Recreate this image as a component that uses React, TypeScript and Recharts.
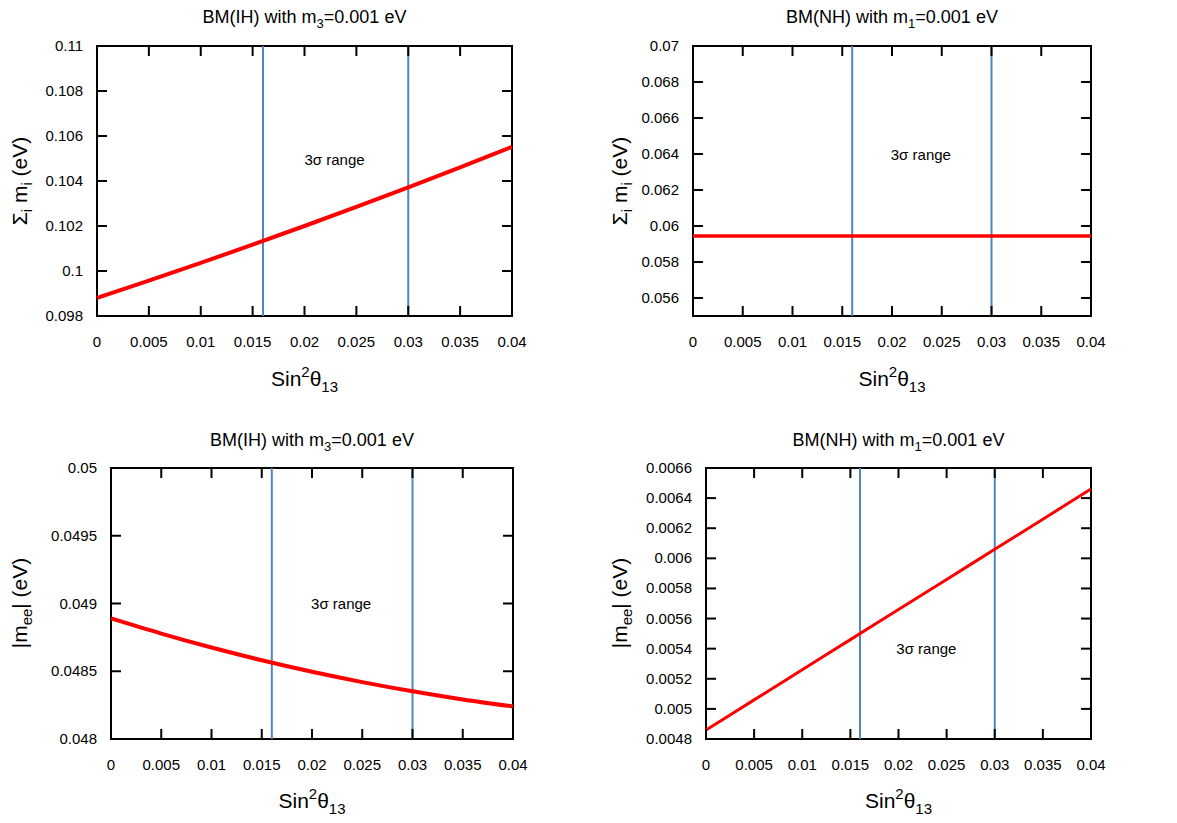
import { LineChart, Line, XAxis, YAxis, ReferenceLine, ReferenceArea, ReferenceDot } from 'recharts';

const FONT = '"Liberation Sans", Arial, Helvetica, sans-serif';

// sin^2(theta13) sample points
const xs = [0, 0.005, 0.01, 0.015, 0.02, 0.025, 0.03, 0.035, 0.04];
const xTicks = [0, 0.005, 0.01, 0.015, 0.02, 0.025, 0.03, 0.035, 0.04];

// sum of masses, BM(IH) m3 = 0.001 eV
const sumIH = [0.0988, 0.09957, 0.10036, 0.10117, 0.102, 0.10285, 0.10372, 0.10461, 0.10552];
const sumIHTicks = [0.098, 0.1, 0.102, 0.104, 0.106, 0.108, 0.11];

// sum of masses, BM(NH) m1 = 0.001 eV
const sumNH = [0.05945, 0.05945, 0.05945, 0.05945, 0.05945, 0.05945, 0.05945, 0.05945, 0.05945];
const sumNHTicks = [0.056, 0.058, 0.06, 0.062, 0.064, 0.066, 0.068, 0.07];

// |m_ee|, BM(IH)
const meeIH = [0.04889, 0.048778, 0.048675, 0.048581, 0.048496, 0.04842, 0.048352, 0.048292, 0.04824];
const meeIHTicks = [0.048, 0.0485, 0.049, 0.0495, 0.05];

// |m_ee|, BM(NH)
const meeNH = [0.00486, 0.00506, 0.00526, 0.00546, 0.00566, 0.00586, 0.00606, 0.00626, 0.00646];
const meeNHTicks = [0.0048, 0.005, 0.0052, 0.0054, 0.0056, 0.0058, 0.006, 0.0062, 0.0064, 0.0066];

// 3 sigma band edges
const sigmaLow = 0.016;
const sigmaHigh = 0.03;

const X_AXIS_H = 40;
const Y_AXIS_W = 60;

interface PanelProps {
  values: number[];
  yDomain: [number, number];
  yTicks: number[];
  labelY: number;
  left: number;
  top: number;
  width: number;
  height: number;
  box: { top: number; right: number; bottom: number; left: number };
  lineWidth: number;
}

function Panel({ values, yDomain, yTicks, labelY, left, top, width, height, box, lineWidth }: PanelProps) {
  const data = xs.map((x, i) => ({ x, y: values[i] }));
  const plotW = width - box.left - box.right;
  const plotH = height - box.top - box.bottom;
  const margin = { top: box.top, right: box.right, bottom: box.bottom - X_AXIS_H, left: box.left - Y_AXIS_W };

  const xTick = (p: any) => (
    <g>
      <line x1={p.x} y1={p.y} x2={p.x} y2={p.y - 10} stroke="#000" strokeWidth={2} />
      <line x1={p.x} y1={p.y - plotH} x2={p.x} y2={p.y - plotH + 10} stroke="#000" strokeWidth={2} />
      <text x={p.x} y={p.y + 31} textAnchor="middle" fontSize={15} fontFamily={FONT} fill="#000">
        {String(p.payload.value)}
      </text>
    </g>
  );

  const yTick = (p: any) => (
    <g>
      <line x1={p.x} y1={p.y} x2={p.x + 10} y2={p.y} stroke="#000" strokeWidth={2} />
      <line x1={p.x + plotW} y1={p.y} x2={p.x + plotW - 10} y2={p.y} stroke="#000" strokeWidth={2} />
      <text x={p.x - 14} y={p.y + 5} textAnchor="end" fontSize={15} fontFamily={FONT} fill="#000">
        {String(p.payload.value)}
      </text>
    </g>
  );

  return (
    <div style={{ position: 'absolute', left, top }}>
      <LineChart width={width} height={height} data={data} margin={margin}>
        <XAxis
          dataKey="x"
          type="number"
          domain={[0, 0.04]}
          ticks={xTicks}
          interval={0}
          height={X_AXIS_H}
          tickSize={0}
          tickMargin={0}
          axisLine={false}
          tickLine={false}
          tick={xTick}
        />
        <YAxis
          type="number"
          domain={yDomain}
          ticks={yTicks}
          interval={0}
          width={Y_AXIS_W}
          tickSize={0}
          tickMargin={0}
          axisLine={false}
          tickLine={false}
          tick={yTick}
        />
        <ReferenceLine x={sigmaLow} stroke="#4f86c0" strokeWidth={2} />
        <ReferenceLine x={sigmaHigh} stroke="#4f86c0" strokeWidth={2} />
        <ReferenceDot
          x={0.0229}
          y={labelY}
          r={0}
          fill="none"
          stroke="none"
          label={{ value: '3σ range', position: 'center', fontSize: 15, fill: '#000', fontFamily: FONT }}
        />
        <Line
          type="monotone"
          dataKey="y"
          stroke="#ff0000"
          strokeWidth={lineWidth}
          dot={false}
          isAnimationActive={false}
        />
        <ReferenceArea
          x1={0}
          x2={0.04}
          y1={yDomain[0]}
          y2={yDomain[1]}
          fill="none"
          fillOpacity={0}
          stroke="#000"
          strokeWidth={2}
        />
      </LineChart>
    </div>
  );
}

function Title({ x, y, idx, h }: { x: number; y: number; idx: string; h: string }) {
  return (
    <text x={x} y={y} textAnchor="middle" fontSize={18} fontFamily={FONT} fill="#000">
      {`BM(${h}) with m`}
      <tspan dy={5} fontSize={13}>{idx}</tspan>
      <tspan dy={-5}>=0.001 eV</tspan>
    </text>
  );
}

function XLabel({ x, y }: { x: number; y: number }) {
  return (
    <text x={x} y={y} textAnchor="middle" fontSize={21} fontFamily={FONT} fill="#000">
      Sin
      <tspan dy={-9} fontSize={15}>2</tspan>
      <tspan dy={9}>θ</tspan>
      <tspan dy={6} fontSize={15}>13</tspan>
    </text>
  );
}

function SumLabel({ x, y }: { x: number; y: number }) {
  return (
    <text x={x} y={y} textAnchor="middle" fontSize={21} fontFamily={FONT} fill="#000" transform={`rotate(-90 ${x} ${y})`}>
      Σ
      <tspan dy={5} fontSize={15}>i</tspan>
      <tspan dy={-5}> m</tspan>
      <tspan dy={5} fontSize={15}>i</tspan>
      <tspan dy={-5}> (eV)</tspan>
    </text>
  );
}

function MeeLabel({ x, y }: { x: number; y: number }) {
  return (
    <text x={x} y={y} textAnchor="middle" fontSize={21} fontFamily={FONT} fill="#000" transform={`rotate(-90 ${x} ${y})`}>
      |m
      <tspan dy={5} fontSize={15}>ee</tspan>
      <tspan dy={-5}>| (eV)</tspan>
    </text>
  );
}

export default function App() {
  return (
    <div style={{ position: 'absolute', left: 0, top: 0, width: 1177, height: 823, background: '#fff', fontFamily: FONT }}>
      <Panel
        values={sumIH}
        yDomain={[0.098, 0.11]}
        yTicks={sumIHTicks}
        labelY={0.10496}
        left={0}
        top={0}
        width={588}
        height={410}
        box={{ top: 46, right: 76, bottom: 94, left: 97 }}
        lineWidth={4}
      />
      <Panel
        values={sumNH}
        yDomain={[0.055, 0.07]}
        yTicks={sumNHTicks}
        labelY={0.06398}
        left={588}
        top={0}
        width={589}
        height={410}
        box={{ top: 46, right: 86, bottom: 94, left: 105 }}
        lineWidth={3.5}
      />
      <Panel
        values={meeIH}
        yDomain={[0.048, 0.05]}
        yTicks={meeIHTicks}
        labelY={0.048998}
        left={0}
        top={410}
        width={588}
        height={413}
        box={{ top: 58, right: 75, bottom: 84, left: 111 }}
        lineWidth={4}
      />
      <Panel
        values={meeNH}
        yDomain={[0.0048, 0.0066]}
        yTicks={meeNHTicks}
        labelY={0.0054}
        left={588}
        top={410}
        width={589}
        height={413}
        box={{ top: 58, right: 86, bottom: 84, left: 118 }}
        lineWidth={3}
      />
      <svg width={1177} height={823} style={{ position: 'absolute', left: 0, top: 0, pointerEvents: 'none' }}>
        <Title x={304.5} y={23} h="IH" idx="3" />
        <Title x={892} y={23} h="NH" idx="1" />
        <Title x={312} y={446} h="IH" idx="3" />
        <Title x={898.5} y={446} h="NH" idx="1" />
        <XLabel x={304.5} y={386} />
        <XLabel x={892} y={386} />
        <XLabel x={312} y={808} />
        <XLabel x={898.5} y={808} />
        <SumLabel x={27} y={181} />
        <SumLabel x={627} y={181} />
        <MeeLabel x={27} y={603} />
        <MeeLabel x={627} y={603} />
      </svg>
    </div>
  );
}
